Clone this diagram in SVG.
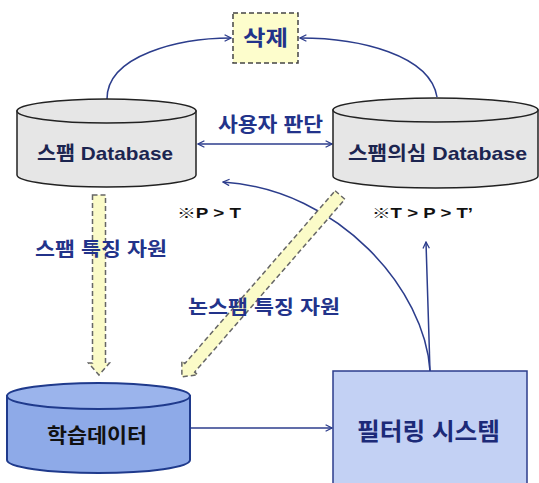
<svg xmlns="http://www.w3.org/2000/svg" width="539" height="483" viewBox="0 0 539 483">
<style>
.k{font-family:"Liberation Sans","Noto Sans CJK KR",sans-serif;font-weight:bold;}
.lab{fill:#22338a;}
.db{fill:#e6e6e6;stroke:#222;stroke-width:1.5;}
.conn{fill:none;stroke:#2c3d8c;stroke-width:1.5;}
.wide{fill:#fbfbc8;stroke:#666;stroke-width:1.5;stroke-dasharray:5,3;}
</style>
<defs>
<marker id="ah" viewBox="0 0 10 10" refX="9" refY="5" markerWidth="8" markerHeight="8" orient="auto-start-reverse" markerUnits="userSpaceOnUse">
<path d="M1,1 L9,5 L1,9" fill="none" stroke="#2c3d8c" stroke-width="1.6"/>
</marker>
</defs>
<rect width="539" height="483" fill="#fff"/>

<g id="connectors">
<path class="conn" d="M107,99 C107,55 180,38 231,38" marker-end="url(#ah)"/>
<path class="conn" d="M437,97 C430,55 360,38 300,38" marker-end="url(#ah)"/>
<path class="conn" d="M198,144 L332,144" marker-start="url(#ah)" marker-end="url(#ah)"/>
<path class="conn" d="M430,371 C425,290 340,190 223,182" marker-end="url(#ah)"/>
<path class="conn" d="M430,371 L426,242" marker-end="url(#ah)"/>
<path class="conn" d="M190,428 L332,428" marker-end="url(#ah)"/>
<g id="spam-feature-arrow" transform="translate(99,195)">
<polygon class="wide" points="-6.5,0 6.5,0 6.5,168 10.5,168 0,180 -10.5,168 -6.5,168"/>
</g>
<g id="nonspam-feature-arrow" transform="translate(340,195) rotate(41)">
<polygon class="wide" points="-6.5,0 6.5,0 6.5,229 10.5,229 0,241 -10.5,229 -6.5,229"/>
</g>
</g>

<g id="delete">
<rect x="233" y="13" width="65" height="50" fill="#fdfdcc" stroke="#444" stroke-width="1.5" stroke-dasharray="5,3"/>
<text class="k lab" x="265.5" y="45" font-size="21" text-anchor="middle" textLength="45" lengthAdjust="spacingAndGlyphs">삭제</text>
</g>

<g id="spam-db">
<path class="db" d="M17,111 L17,175 A89.5,12 0 0,0 196,175 L196,111 Z"/>
<ellipse class="db" cx="106.5" cy="111" rx="89.5" ry="12"/>
<text class="k" x="105" y="160" font-size="19" fill="#1c2550" text-anchor="middle" textLength="136" lengthAdjust="spacingAndGlyphs">스팸 Database</text>
</g>

<g id="suspect-db">
<path class="db" d="M333,110 L333,176 A102.5,12 0 0,0 538,176 L538,110 Z"/>
<ellipse class="db" cx="435.5" cy="110" rx="102.5" ry="12"/>
<text class="k" x="437.5" y="160" font-size="19" fill="#1c2550" text-anchor="middle" textLength="179" lengthAdjust="spacingAndGlyphs">스팸의심 Database</text>
</g>

<g id="labels">
<text class="k lab" x="270.5" y="132" font-size="20" text-anchor="middle" textLength="105" lengthAdjust="spacingAndGlyphs">사용자 판단</text>
<text class="k" x="177" y="218" font-size="14" fill="#111" textLength="64" lengthAdjust="spacingAndGlyphs">※P &gt; T</text>
<text class="k" x="372" y="218" font-size="14" fill="#111" textLength="101" lengthAdjust="spacingAndGlyphs">※T &gt; P &gt; T’</text>
<text class="k lab" x="35" y="256" font-size="19" textLength="132" lengthAdjust="spacingAndGlyphs">스팸 특징 자원</text>
<text class="k lab" x="188" y="314" font-size="19" textLength="152" lengthAdjust="spacingAndGlyphs">논스팸 특징 자원</text>
</g>

<g id="training-data">
<path d="M7,396 L7,460 A91.5,13 0 0,0 190,460 L190,396 Z" fill="#8eaae8" stroke="#1f3a8c" stroke-width="2"/>
<ellipse cx="98.5" cy="396" rx="91.5" ry="13" fill="#9bb4ec" stroke="#1f3a8c" stroke-width="2"/>
<text class="k" x="97" y="443" font-size="20" fill="#111" text-anchor="middle" textLength="100" lengthAdjust="spacingAndGlyphs">학습데이터</text>
</g>

<g id="filtering-system">
<rect x="333" y="371" width="194" height="125" fill="#c3d1f4" stroke="#2c3d8c" stroke-width="1.5"/>
<text class="k" x="428.5" y="440" font-size="24" fill="#1c2a78" text-anchor="middle" textLength="143" lengthAdjust="spacingAndGlyphs">필터링 시스템</text>
</g>
</svg>
